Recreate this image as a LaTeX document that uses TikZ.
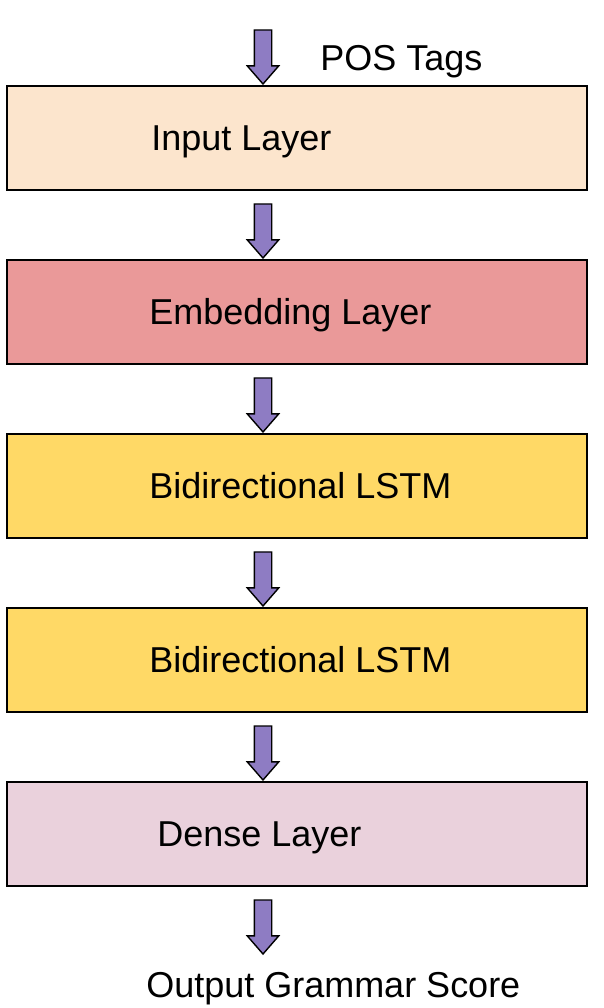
\documentclass[tikz,border=0pt]{standalone}
\usepackage{fontspec}
\setmainfont{Liberation Sans}
\usetikzlibrary{positioning,shapes.arrows}
\definecolor{inputcol}{HTML}{FCE5CD}
\definecolor{embedcol}{HTML}{EA9999}
\definecolor{lstmcol}{HTML}{FFD966}
\definecolor{densecol}{HTML}{EAD1DC}
\definecolor{arrowcol}{HTML}{8E7CC3}

\begin{document}
\begin{tikzpicture}[
    layer/.style={draw=black, line width=0.05cm, minimum width=14.5cm, minimum height=2.6cm, inner sep=0pt},
    downarrow/.style={single arrow, draw=black, line width=0.035cm, fill=arrowcol, shape border rotate=270,
        minimum height=1.35cm, inner sep=0.2cm, single arrow head extend=0.175cm,
        single arrow head indent=0pt, single arrow tip angle=82},
    txt/.style={anchor=base west, inner sep=0pt, font=\fontsize{25.6pt}{30pt}\selectfont}
]
    \useasboundingbox (0,0) rectangle (15.1,25.2);

    % layers
    \node[layer, fill=inputcol] (inp) at (7.425,21.75) {};
    \node[layer, fill=embedcol, below=1.7cm of inp] (emb) {};
    \node[layer, fill=lstmcol, below=1.7cm of emb] (lstma) {};
    \node[layer, fill=lstmcol, below=1.7cm of lstma] (lstmb) {};
    \node[layer, fill=densecol, below=1.7cm of lstmb] (dense) {};

    \node[txt] (inptxt) at ([xshift=3.625cm, yshift=-0.325cm]inp.west) {Input Layer};
    \node[txt] (embtxt) at ([xshift=3.575cm, yshift=-0.325cm]emb.west) {Embedding Layer};
    \node[txt] (lstmatxt) at ([xshift=3.575cm, yshift=-0.325cm]lstma.west) {Bidirectional LSTM};
    \node[txt] (lstmbtxt) at ([xshift=3.575cm, yshift=-0.325cm]lstmb.west) {Bidirectional LSTM};
    \node[txt] (densetxt) at ([xshift=3.775cm, yshift=-0.325cm]dense.west) {Dense Layer};

    % arrows between the layers
    \node[downarrow] (a0) at ([xshift=-0.85cm, yshift=0.825cm]inp.north) {};
    \node[downarrow] (a1) at ([xshift=-0.85cm, yshift=-0.875cm]inp.south) {};
    \node[downarrow] (a2) at ([xshift=-0.85cm, yshift=-0.875cm]emb.south) {};
    \node[downarrow] (a3) at ([xshift=-0.85cm, yshift=-0.875cm]lstma.south) {};
    \node[downarrow] (a4) at ([xshift=-0.85cm, yshift=-0.875cm]lstmb.south) {};
    \node[downarrow] (a5) at ([xshift=-0.85cm, yshift=-0.875cm]dense.south) {};

    \node[txt] (postxt) at (8.0,23.425) {POS Tags};
    \node[txt] (outtxt) at (3.65,0.275) {Output Grammar Score};
\end{tikzpicture}
\end{document}
